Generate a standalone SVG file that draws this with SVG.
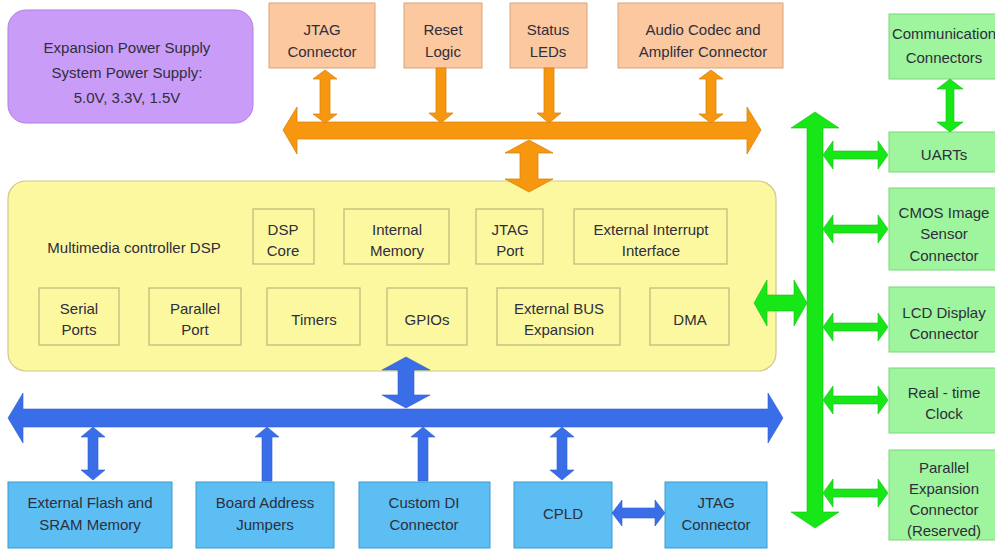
<svg xmlns="http://www.w3.org/2000/svg" width="995" height="550" viewBox="0 0 995 550">
<style>
text{font-family:"Liberation Sans",Arial,sans-serif;font-size:15px;fill:#2e2e3c;text-anchor:middle}
.pur{fill:#c99cf7;stroke:#b27fe2;stroke-width:1}
.org{fill:#fbc89f;stroke:#d9a37a;stroke-width:1}
.yel{fill:#fcf8a0;stroke:#cfc98a;stroke-width:1.2}
.inn{fill:#fcf8a0;stroke:#bdb77a;stroke-width:1.2}
.grn{fill:#9ef59e;stroke:#78d878;stroke-width:1}
.blu{fill:#5cbef2;stroke:#3f9acd;stroke-width:1}
.ao{fill:#f7960f;stroke:#d98510;stroke-width:0.8}
.ag{fill:#17e617;stroke:#10c010;stroke-width:0.6}
.ab{fill:#3a6ee8;stroke:#2f5cc8;stroke-width:0.6}
</style>
<rect width="995" height="550" fill="#ffffff"/>

<g id="power"><rect class="pur" x="8" y="10" width="245" height="113" rx="18"/>
<text x="127" y="53">Expansion Power Supply</text><text x="127" y="78">System Power Supply:</text><text x="127" y="103">5.0V, 3.3V, 1.5V</text></g>

<g id="jtag-top"><rect class="org" x="269" y="3" width="106" height="65"/><text x="322" y="35">JTAG</text><text x="322" y="57">Connector</text></g>
<g id="reset"><rect class="org" x="404" y="3" width="78" height="65"/><text x="443" y="35">Reset</text><text x="443" y="57">Logic</text></g>
<g id="status"><rect class="org" x="510" y="3" width="77" height="65"/><text x="548" y="35">Status</text><text x="548" y="57">LEDs</text></g>
<g id="audio"><rect class="org" x="618" y="3" width="165" height="65"/><text x="703" y="35">Audio Codec and</text><text x="703" y="57">Amplifer Connector</text></g>

<g id="dsp"><rect class="yel" x="8" y="181" width="768" height="190" rx="18"/>
<text x="134" y="253">Multimedia controller DSP</text>
<g id="dsp-core"><rect class="inn" x="253" y="209" width="61" height="55"/><text x="283" y="235">DSP</text><text x="283" y="256">Core</text></g>
<g id="internal-memory"><rect class="inn" x="344" y="209" width="105" height="55"/><text x="397" y="235">Internal</text><text x="397" y="256">Memory</text></g>
<g id="jtag-port"><rect class="inn" x="476" y="209" width="67" height="55"/><text x="510" y="235">JTAG</text><text x="510" y="256">Port</text></g>
<g id="ext-int"><rect class="inn" x="574" y="209" width="153" height="55"/><text x="651" y="235">External Interrupt</text><text x="651" y="256">Interface</text></g>
<g id="serial"><rect class="inn" x="39" y="288" width="80" height="57"/><text x="79" y="314">Serial</text><text x="79" y="335">Ports</text></g>
<g id="parallel-port"><rect class="inn" x="149" y="288" width="92" height="57"/><text x="195" y="314">Parallel</text><text x="195" y="335">Port</text></g>
<g id="timers"><rect class="inn" x="267" y="288" width="93" height="57"/><text x="314" y="325">Timers</text></g>
<g id="gpios"><rect class="inn" x="387" y="288" width="80" height="57"/><text x="427" y="325">GPIOs</text></g>
<g id="ext-bus"><rect class="inn" x="497" y="288" width="123" height="57"/><text x="559" y="314">External BUS</text><text x="559" y="335">Expansion</text></g>
<g id="dma"><rect class="inn" x="650" y="288" width="79" height="57"/><text x="690" y="325">DMA</text></g>
</g>

<g id="comm"><rect class="grn" x="889" y="14" width="110" height="65"/><text x="944" y="39">Communication</text><text x="944" y="63">Connectors</text></g>
<g id="uarts"><rect class="grn" x="889" y="132" width="110" height="40"/><text x="944" y="160">UARTs</text></g>
<g id="cmos"><rect class="grn" x="889" y="188" width="110" height="82"/><text x="944" y="218">CMOS Image</text><text x="944" y="239">Sensor</text><text x="944" y="261">Connector</text></g>
<g id="lcd"><rect class="grn" x="889" y="287" width="110" height="65"/><text x="944" y="318">LCD Display</text><text x="944" y="339">Connector</text></g>
<g id="rtc"><rect class="grn" x="889" y="368" width="110" height="65"/><text x="944" y="398">Real - time</text><text x="944" y="419">Clock</text></g>
<g id="pexp"><rect class="grn" x="889" y="450" width="110" height="90"/><text x="944" y="473">Parallel</text><text x="944" y="494">Expansion</text><text x="944" y="515">Connector</text><text x="944" y="536">(Reserved)</text></g>

<g id="flash"><rect class="blu" x="8" y="482" width="164" height="66"/><text x="90" y="508">External Flash and</text><text x="90" y="530">SRAM Memory</text></g>
<g id="board"><rect class="blu" x="196" y="482" width="138" height="66"/><text x="265" y="508">Board Address</text><text x="265" y="530">Jumpers</text></g>
<g id="customdi"><rect class="blu" x="359" y="482" width="131" height="66"/><text x="424" y="508">Custom DI</text><text x="424" y="530">Connector</text></g>
<g id="cpld"><rect class="blu" x="514" y="482" width="98" height="66"/><text x="563" y="519">CPLD</text></g>
<g id="jtag-bottom"><rect class="blu" x="665" y="482" width="102" height="66"/><text x="716" y="508">JTAG</text><text x="716" y="530">Connector</text></g>

<g id="connectors">
<!-- orange bus -->
<polygon class="ao" points="283,130 297,107 297,122 747,122 747,107 761,130 747,154 747,139 297,139 297,154"/>
<polygon class="ao" points="325,70 337,79 330,79 330,114 337,114 325,123 313,114 320,114 320,79 313,79"/>
<polygon class="ao" points="436,68 446,68 446,113 453,113 441,123 429,113 436,113"/>
<polygon class="ao" points="544,68 554,68 554,113 561,113 549,123 537,113 544,113"/>
<polygon class="ao" points="711,70 723,79 716,79 716,114 723,114 711,123 699,114 706,114 706,79 699,79"/>
<polygon class="ao" points="529,140 553,153 538,153 538,179 553,179 529,192 505,179 520,179 520,153 505,153"/>
<!-- green -->
<polygon class="ag" points="815,112 839,128 823,128 823,512 839,512 815,528 791,512 807,512 807,128 791,128"/>
<polygon class="ag" points="754,303 767,280 767,295 794,295 794,280 807,303 794,326 794,311 767,311 767,326"/>
<polygon class="ag" points="950,79 963,89 954,89 954,122 963,122 950,132 937,122 946,122 946,89 937,89"/>
<polygon class="ag" points="823,155 833,141 833,151 878,151 878,141 888,155 878,169 878,159 833,159 833,169"/>
<polygon class="ag" points="823,229 833,215 833,225 878,225 878,215 888,229 878,243 878,233 833,233 833,243"/>
<polygon class="ag" points="823,327 833,313 833,323 878,323 878,313 888,327 878,341 878,331 833,331 833,341"/>
<polygon class="ag" points="823,400 833,386 833,396 878,396 878,386 888,400 878,414 878,404 833,404 833,414"/>
<polygon class="ag" points="823,493 833,479 833,489 878,489 878,479 888,493 878,507 878,497 833,497 833,507"/>
<!-- blue -->
<polygon class="ab" points="8,418 23,393 23,409 768,409 768,393 783,418 768,443 768,427 23,427 23,443"/>
<polygon class="ab" points="406,357 430,370 414,370 414,395 430,395 406,408 382,395 398,395 398,370 382,370"/>
<polygon class="ab" points="93,427 105,437 98,437 98,470 105,470 93,480 81,470 88,470 88,437 81,437"/>
<polygon class="ab" points="267,427 279,437 272,437 272,481 262,481 262,437 255,437"/>
<polygon class="ab" points="423,427 435,437 428,437 428,481 418,481 418,437 411,437"/>
<polygon class="ab" points="562,427 574,437 567,437 567,470 574,470 562,480 550,470 557,470 557,437 550,437"/>
<polygon class="ab" points="612,513 622,500 622,508 655,508 655,500 665,513 655,526 655,518 622,518 622,526"/>
</g>
</svg>
